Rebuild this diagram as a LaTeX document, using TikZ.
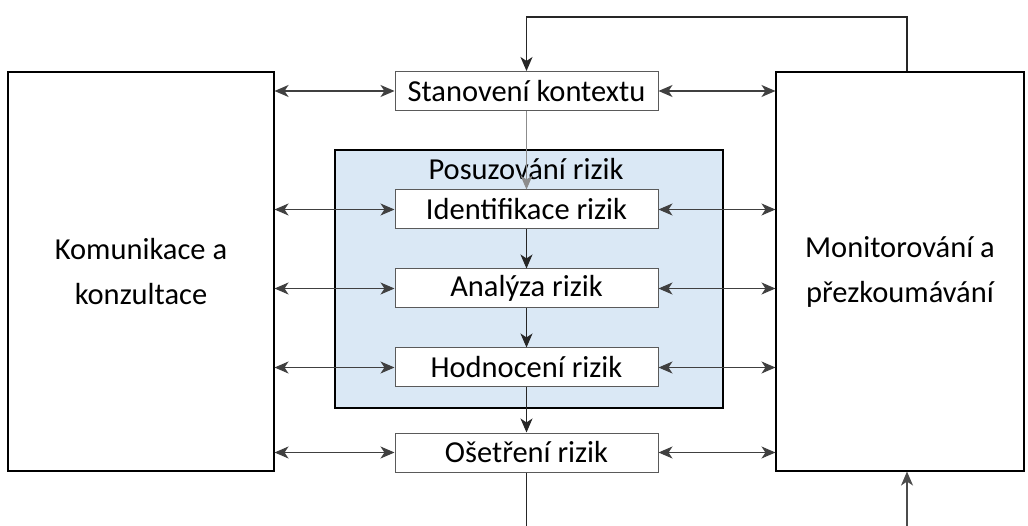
\documentclass[tikz,border=0pt]{standalone}
\usepackage{fontspec}
\setmainfont{Carlito}
\usetikzlibrary{arrows.meta}
\definecolor{boxline}{HTML}{5A5A5A}
\definecolor{bluefill}{HTML}{DAE8F5}
\tikzset{
  stepbox/.style={draw=boxline, fill=white, minimum width=263pt, minimum height=39pt, inner sep=0pt, font=\fontsize{30.5}{34}\selectfont, line width=1pt},
  bigbox/.style={draw=black, fill=white, line width=1.1pt, inner sep=0pt, align=center, font=\fontsize{30.5}{45}\selectfont},
  conn/.style={line width=1.1pt, draw=black!85, -{Stealth[length=14pt,width=12pt,inset=4pt]}},
  dconn/.style={line width=1.1pt, draw=black!75, {Stealth[length=14pt,width=12pt,inset=4pt]}-{Stealth[length=14pt,width=12pt,inset=4pt]}},
}
\begin{document}
\begin{tikzpicture}[x=1pt,y=-1pt]
\useasboundingbox (0,0) rectangle (1028,526);
\fill[white] (0,0) rectangle (1028,526);
% big side boxes
\node[bigbox, minimum width=266pt, minimum height=399pt] (kom) at (141,271.5) {Komunikace a\\konzultace};
\node[bigbox, minimum width=248pt, minimum height=399pt] (mon) at (900,271.5) {Monitorování a\\přezkoumávání};
% assessment frame
\node[draw=black, fill=bluefill, line width=1.1pt, minimum width=388pt, minimum height=258pt, inner sep=0pt] (pos) at (529,279) {};
\node[font=\fontsize{30.5}{34}\selectfont, anchor=base] (postxt) at (526,180) {Posuzování rizik};
% steps
\node[stepbox] (sta) at (526.5,91) {Stanovení kontextu};
\node[stepbox] (ide) at (526.5,209.5) {Identifikace rizik};
\node[stepbox] (ana) at (526.5,288.5) {Analýza rizik};
\node[stepbox] (hod) at (526.5,367.5) {Hodnocení rizik};
\node[stepbox] (ose) at (526.5,452.5) {Ošetření rizik};
% vertical flow
\draw[conn, draw=black!45] (sta) -- (ide);
\draw[conn] (ide) -- (ana);
\draw[conn] (ana) -- (hod);
\draw[conn] (hod) -- (ose);
% side arrows
\foreach \n in {sta,ide,ana,hod,ose}{
  \draw[dconn] (kom.east |- \n.west) -- (\n.west);
  \draw[dconn] (\n.east) -- (mon.west |- \n.east);
}
% feedback loop
\coordinate (topr) at (907,17);
\coordinate (topl) at (526.5,17);
\coordinate (botl) at (526.5,526);
\coordinate (botr) at (907,526);
\draw[conn] (mon.north -| topr) -- (topr) -- (topl) -- (sta.north);
\draw[line width=1.1pt, draw=black!85] (ose.south) -- (botl);
\draw[conn, draw=black!70] (botr) -- (mon.south -| botr);
\end{tikzpicture}
\end{document}
